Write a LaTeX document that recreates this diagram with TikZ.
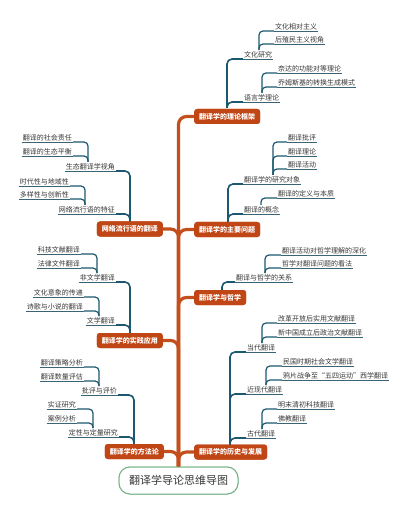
\documentclass[tikz,border=0pt]{standalone}
\usepackage{fontspec}
\newfontfamily\cjk{Noto Sans CJK SC}
\definecolor{orng}{RGB}{193,70,22}
\definecolor{orngline}{RGB}{196,78,28}
\definecolor{tealc}{RGB}{28,88,112}
\definecolor{txtc}{RGB}{55,55,55}
\definecolor{rootline}{RGB}{120,180,135}
\begin{document}
\begin{tikzpicture}[x=1pt,y=-1pt,
  box/.style={fill=orng, rounded corners=3pt, text=white, font=\cjk\bfseries\fontsize{7}{8}\selectfont, minimum height=15pt, inner xsep=5pt, inner ysep=0pt},
  rootbox/.style={draw=rootline, line width=1pt, rounded corners=11pt, fill=white, minimum width=119pt, minimum height=27pt, inner sep=0pt, font=\cjk\fontsize{11}{13}\selectfont, text=txtc},
  lblR/.style={anchor=south west, inner sep=1pt, font=\cjk\fontsize{7}{8}\selectfont, text=txtc},
  lblL/.style={anchor=south east, inner sep=1pt, font=\cjk\fontsize{7}{8}\selectfont, text=txtc},
  trunk/.style={draw=orngline, line width=3.2pt, rounded corners=8pt},
  lone/.style={draw=tealc, line width=1.6pt, rounded corners=5pt},
  ltwo/.style={draw=tealc, line width=1.2pt, rounded corners=4pt},
  ul/.style={draw=tealc!70!gray, line width=0.7pt}
]
\useasboundingbox (0,0) rectangle (400,518);
\fill[white] (0,0) rectangle (400,518);

% root
\node[rootbox] (root) at (178.5,480.5) {翻译学导论思维导图};

% main boxes
\node[box, anchor=west] (B1) at (194,116.5) {翻译学的理论框架};
\node[box, anchor=west] (B2) at (194,229.5) {翻译学的主要问题};
\node[box, anchor=west] (B3) at (194,297.5) {翻译学与哲学};
\node[box, anchor=west] (B4) at (194,452) {翻译学的历史与发展};
\node[box, anchor=east] (B5) at (163,229) {网络流行语的翻译};
\node[box, anchor=east] (B6) at (163,340.5) {翻译学的实践应用};
\node[box, anchor=east] (B7) at (164,451.5) {翻译学的方法论};

% trunk connectors
\foreach \b in {B1,B2,B3,B4} { \draw[trunk] (root.north) |- (\b.west); }
\foreach \b in {B5,B6,B7} { \draw[trunk] (root.north) |- (\b.east); }

% ---------- B1 ----------
\coordinate (B1t) at (227,108);
\node[lblR] (n11) at (243,59) {文化研究};
\node[lblR] (n12) at (243,102) {语言学理论};
\node[lblR] (n111) at (274,31) {文化相对主义};
\node[lblR] (n112) at (274,44) {后殖民主义视角};
\node[lblR] (n121) at (277,73) {奈达的功能对等理论};
\node[lblR] (n122) at (277,87) {乔姆斯基的转换生成模式};
\coordinate (v11) at (259,50);
\coordinate (v12) at (262,93);

% ---------- B2 ----------
\coordinate (B2t) at (228,222);
\node[lblR] (n21) at (243,184) {翻译学的研究对象};
\node[lblR] (n22) at (243,214) {翻译的概念};
\node[lblR] (n211) at (287,142) {翻译批评};
\node[lblR] (n212) at (287,156) {翻译理论};
\node[lblR] (n213) at (287,169) {翻译活动};
\node[lblR] (n221) at (277,198) {翻译的定义与本质};
\coordinate (v21) at (273,175);
\coordinate (v22) at (261,205);

% ---------- B3 ----------
\coordinate (B3t) at (222,290);
\node[lblR] (n31) at (235,282) {翻译与哲学的关系};
\node[lblR] (n311) at (281,255) {翻译活动对哲学理解的深化};
\node[lblR] (n312) at (281,268) {哲学对翻译问题的看法};
\coordinate (v31) at (265,273);

% ---------- B4 ----------
\coordinate (B4t) at (230,445);
\node[lblR] (n41) at (246,352) {当代翻译};
\node[lblR] (n42) at (246,394) {近现代翻译};
\node[lblR] (n43) at (246,438) {古代翻译};
\node[lblR] (n411) at (277,323) {改革开放后实用文献翻译};
\node[lblR] (n412) at (277,337) {新中国成立后政治文献翻译};
\node[lblR] (n421) at (282,366) {民国时期社会文学翻译};
\node[lblR] (n422) at (282,380) {鸦片战争至“五四运动”西学翻译};
\node[lblR] (n431) at (277,409) {明末清初科技翻译};
\node[lblR] (n432) at (277,423) {佛教翻译};
\coordinate (v41) at (262,343);
\coordinate (v42) at (266,385);
\coordinate (v43) at (262,429);

% ---------- B5 ----------
\coordinate (B5t) at (130,222);
\node[lblL] (n51) at (116,171) {生态翻译学视角};
\node[lblL] (n52) at (116,214) {网络流行语的特征};
\node[lblL] (n511) at (73,142) {翻译的社会责任};
\node[lblL] (n512) at (73,156) {翻译的生态平衡};
\node[lblL] (n521) at (70,186) {时代性与地域性};
\node[lblL] (n522) at (70,199) {多样性与创新性};
\coordinate (v51) at (88,162);
\coordinate (v52) at (85,205);

% ---------- B6 ----------
\coordinate (B6t) at (130,333);
\node[lblL] (n61) at (116,282) {非文学翻译};
\node[lblL] (n62) at (116,325) {文学翻译};
\node[lblL] (n611) at (81,254) {科技文献翻译};
\node[lblL] (n612) at (81,268) {法律文件翻译};
\node[lblL] (n621) at (84,297) {文化意象的传递};
\node[lblL] (n622) at (84,311) {诗歌与小说的翻译};
\coordinate (v61) at (97,273);
\coordinate (v62) at (99,316);

% ---------- B7 ----------
\coordinate (B7t) at (134,445);
\node[lblL] (n71) at (118,395) {批评与评价};
\node[lblL] (n72) at (119,437) {定性与定量研究};
\node[lblL] (n711) at (84,367) {翻译策略分析};
\node[lblL] (n712) at (84,381) {翻译数量评估};
\node[lblL] (n721) at (77,409) {实证研究};
\node[lblL] (n722) at (77,423) {案例分析};
\coordinate (v71) at (99,386);
\coordinate (v72) at (93,428);

% level-1 connectors (right side)
\foreach \p/\c in {B1t/n11,B1t/n12,B2t/n21,B2t/n22,B3t/n31,B4t/n41,B4t/n42,B4t/n43}
  { \draw[lone] (\p) |- (\c.south west); }
% level-1 connectors (left side)
\foreach \p/\c in {B5t/n51,B5t/n52,B6t/n61,B6t/n62,B7t/n71,B7t/n72}
  { \draw[lone] (\p) |- (\c.south east); }
% level-2 connectors (right side)
\foreach \p/\c in {v11/n111,v11/n112,v12/n121,v12/n122,v21/n211,v21/n212,v21/n213,v22/n221,v31/n311,v31/n312,v41/n411,v41/n412,v42/n421,v42/n422,v43/n431,v43/n432}
  { \draw[ltwo] (\p) |- (\c.south west); }
% level-2 connectors (left side)
\foreach \p/\c in {v51/n511,v51/n512,v52/n521,v52/n522,v61/n611,v61/n612,v62/n621,v62/n622,v71/n711,v71/n712,v72/n721,v72/n722}
  { \draw[ltwo] (\p) |- (\c.south east); }
% underlines
\foreach \n in {n11,n12,n111,n112,n121,n122,n21,n22,n211,n212,n213,n221,n31,n311,n312,n41,n42,n43,n411,n412,n421,n422,n431,n432,n51,n52,n511,n512,n521,n522,n61,n62,n611,n612,n621,n622,n71,n72,n711,n712,n721,n722}
  { \draw[ul] (\n.south west) -- (\n.south east); }

% redraw boxes and root on top of the connectors
\node[box, anchor=west] at (194,116.5) {翻译学的理论框架};
\node[box, anchor=west] at (194,229.5) {翻译学的主要问题};
\node[box, anchor=west] at (194,297.5) {翻译学与哲学};
\node[box, anchor=west] at (194,452) {翻译学的历史与发展};
\node[box, anchor=east] at (163,229) {网络流行语的翻译};
\node[box, anchor=east] at (163,340.5) {翻译学的实践应用};
\node[box, anchor=east] at (164,451.5) {翻译学的方法论};
\node[rootbox] at (178.5,480.5) {翻译学导论思维导图};
\end{tikzpicture}
\end{document}
